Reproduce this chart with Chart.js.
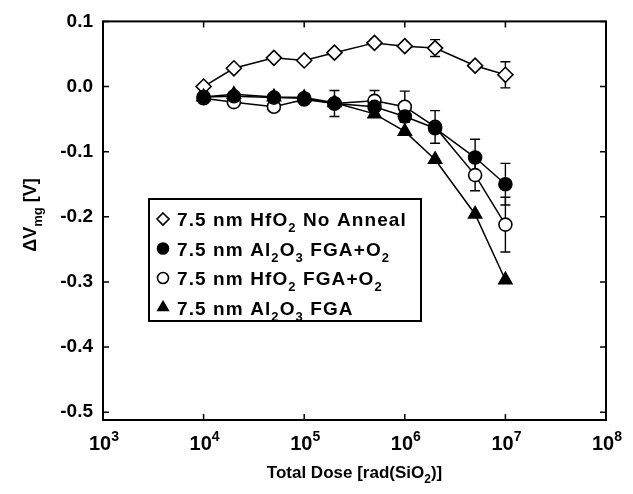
<!DOCTYPE html>
<html><head><meta charset="utf-8">
<script src="https://cdn.jsdelivr.net/npm/chart.js@4/dist/chart.umd.min.js"></script>
<style>html,body{margin:0;padding:0;background:#fff;}canvas{display:block}</style>
</head><body>
<canvas id="c" width="633" height="494"></canvas>
<script>
// ---- data ----
const doses = [1e4, 2e4, 5e4, 1e5, 2e5, 5e5, 1e6, 2e6, 5e6, 1e7];
const hfNoAnneal    = [0.000, 0.028, 0.044, 0.040, 0.052, 0.067, 0.062, 0.059, 0.032, 0.018];
const hfNoAnnealErr = [null, null, null, null, null, null, null, 0.013, null, 0.020];
const alFgaO2       = [-0.016, -0.015, -0.017, -0.018, -0.026, -0.031, -0.046, -0.064, -0.109, -0.150];
const alFgaO2Err    = [null, null, null, null, null, null, null, null, 0.028, 0.032];
const hfFgaO2       = [-0.018, -0.024, -0.031, -0.020, -0.026, -0.022, -0.031, -0.062, -0.136, -0.212];
const hfFgaO2Err    = [null, null, null, null, 0.020, 0.016, 0.024, 0.025, 0.024, 0.042];
const alFga         = [-0.016, -0.012, -0.016, -0.017, -0.025, -0.042, -0.069, -0.112, -0.196, -0.297];
const alFgaErr      = [null, null, null, null, null, null, null, null, null, null];
const yTicks = [0.1, 0.0, -0.1, -0.2, -0.3, -0.4, -0.5];
const xTickExps = [3, 4, 5, 6, 7, 8];
const legendLabels = [
  [["7.5 nm HfO",0],["2",-1],[" No Anneal",0]],
  [["7.5 nm Al",0],["2",-1],["O",0],["3",-1],[" FGA+O",0],["2",-1]],
  [["7.5 nm HfO",0],["2",-1],[" FGA+O",0],["2",-1]],
  [["7.5 nm Al",0],["2",-1],["O",0],["3",-1],[" FGA",0]]
];
// --------------------------------------

const FONT = '"Liberation Sans", Arial, Helvetica, sans-serif';
const pts = arr => doses.map((d, i) => ({x: d, y: arr[i]}));

const seriesDefs = [
  {data: hfNoAnneal, err: hfNoAnnealErr, style: 'rectRot', fill: '#fff', r: 7.5, order: 4},
  {data: alFgaO2, err: alFgaO2Err, style: 'circle', fill: '#000', r: 6.5, order: 1},
  {data: hfFgaO2, err: hfFgaO2Err, style: 'circle', fill: '#fff', r: 6.5, order: 2},
  {data: alFga, err: alFgaErr, style: 'triangle', fill: '#000', r: 7.5, order: 3}
];

function drawRich(ctx, parts, x, y, size, ls) {
  let cx = x;
  ctx.letterSpacing = (ls || 0) + 'px';
  for (const [t, s] of parts) {
    const fs = s === 0 ? size : Math.round(size * 0.7);
    ctx.font = 'bold ' + fs + 'px ' + FONT;
    const dy = s === -1 ? size * 0.32 : (s === 1 ? -size * 0.45 : 0);
    ctx.fillText(t, cx, y + dy);
    cx += ctx.measureText(t).width;
  }
  ctx.letterSpacing = '0px';
  return cx - x;
}
function richWidth(ctx, parts, size, ls) {
  let w = 0;
  ctx.letterSpacing = (ls || 0) + 'px';
  for (const [t, s] of parts) {
    const fs = s === 0 ? size : Math.round(size * 0.7);
    ctx.font = 'bold ' + fs + 'px ' + FONT;
    w += ctx.measureText(t).width;
  }
  ctx.letterSpacing = '0px';
  return w;
}
function marker(ctx, style, x, y, r, fill) {
  ctx.save();
  ctx.lineWidth = 1.6;
  ctx.strokeStyle = '#000';
  ctx.fillStyle = fill;
  ctx.beginPath();
  if (style === 'circle') ctx.arc(x, y, r, 0, Math.PI * 2);
  else if (style === 'rectRot') { ctx.moveTo(x, y - r); ctx.lineTo(x + r, y); ctx.lineTo(x, y + r); ctx.lineTo(x - r, y); ctx.closePath(); }
  else if (style === 'triangle') { ctx.moveTo(x, y - r); ctx.lineTo(x + r * 0.87, y + r * 0.5); ctx.lineTo(x - r * 0.87, y + r * 0.5); ctx.closePath(); }
  ctx.fill(); ctx.stroke();
  ctx.restore();
}

const decor = {
  id: 'decor',
  beforeDatasetsDraw(chart) {
    const ctx = chart.ctx, xs = chart.scales.x, ys = chart.scales.y;
    ctx.save();
    ctx.strokeStyle = '#000'; ctx.lineWidth = 1.4;
    for (const s of seriesDefs) {
      s.err.forEach((e, i) => {
        if (e == null) return;
        const px = xs.getPixelForValue(doses[i]);
        const y1 = ys.getPixelForValue(s.data[i] + e), y2 = ys.getPixelForValue(s.data[i] - e);
        ctx.beginPath();
        ctx.moveTo(px, y1); ctx.lineTo(px, y2);
        ctx.moveTo(px - 5, y1); ctx.lineTo(px + 5, y1);
        ctx.moveTo(px - 5, y2); ctx.lineTo(px + 5, y2);
        ctx.stroke();
      });
    }
    ctx.restore();
  },
  afterDraw(chart) {
    const ctx = chart.ctx, a = chart.chartArea, xs = chart.scales.x, ys = chart.scales.y;
    ctx.save();
    ctx.strokeStyle = '#000'; ctx.fillStyle = '#000';
    // frame
    ctx.lineWidth = 2;
    ctx.strokeRect(a.left, a.top, a.right - a.left, a.bottom - a.top);
    // inward ticks
    ctx.lineWidth = 1.5;
    ctx.beginPath();
    for (const v of yTicks) {
      const py = ys.getPixelForValue(v);
      ctx.moveTo(a.left, py); ctx.lineTo(a.left + 6, py);
      ctx.moveTo(a.right, py); ctx.lineTo(a.right - 6, py);
    }
    for (const e of xTickExps) {
      const px = xs.getPixelForValue(Math.pow(10, e));
      ctx.moveTo(px, a.top); ctx.lineTo(px, a.top + 6);
      ctx.moveTo(px, a.bottom); ctx.lineTo(px, a.bottom - 6);
    }
    ctx.stroke();
    // x tick labels 10^n
    ctx.textBaseline = 'alphabetic'; ctx.textAlign = 'left';
    for (const e of xTickExps) {
      const px = xs.getPixelForValue(Math.pow(10, e));
      const parts = [["10",0],[String(e),1]];
      const w = richWidth(ctx, parts, 20);
      drawRich(ctx, parts, px - w / 2 + 1, a.bottom + 30, 20);
    }
    // x title
    const xt = [["Total Dose [rad(SiO",0],["2",-1],[")]",0]];
    const xw = richWidth(ctx, xt, 17);
    drawRich(ctx, xt, (a.left + a.right) / 2 - xw / 2, 478, 17);
    // y title (rotated)
    ctx.save();
    ctx.translate(36, 215);
    ctx.rotate(-Math.PI / 2);
    const yt = [["\u0394V",0],["mg",-1],[" [V]",0]];
    const yw = richWidth(ctx, yt, 18);
    drawRich(ctx, yt, -yw / 2, 0, 18);
    ctx.restore();
    // legend
    const lx = 149, ly = 199, lw = 272, lh = 122;
    ctx.fillStyle = '#fff';
    ctx.fillRect(lx, ly, lw, lh);
    ctx.lineWidth = 2;
    ctx.strokeRect(lx, ly, lw, lh);
    ctx.fillStyle = '#000';
    legendLabels.forEach((parts, i) => {
      const cy = ly + 20 + i * 29.5;
      const s = seriesDefs[i];
      marker(ctx, s.style, 163, cy, s.style === 'circle' ? 5.5 : 6, s.fill);
      ctx.fillStyle = '#000';
      drawRich(ctx, parts, 177, cy + 7, 19, 1.1);
    });
    ctx.restore();
  }
};

new Chart(document.getElementById('c'), {
  type: 'line',
  data: {
    datasets: seriesDefs.map(s => ({
      data: pts(s.data),
      showLine: true,
      borderColor: '#000',
      borderWidth: 1.5,
      pointStyle: s.style,
      pointRadius: s.r,
      pointBackgroundColor: s.fill,
      pointBorderColor: '#000',
      pointBorderWidth: 1.6,
      order: s.order,
      tension: 0
    }))
  },
  options: {
    responsive: false,
    animation: false,
    devicePixelRatio: 1,
    layout: {padding: {top: 17, right: 27, left: 0, bottom: 0}},
    plugins: {legend: {display: false}, tooltip: {enabled: false}},
    scales: {
      x: {
        type: 'logarithmic', min: 1e3, max: 1e8,
        grid: {display: false, drawTicks: false},
        border: {display: false},
        ticks: {display: false},
        afterFit: s => { s.height = 74; }
      },
      y: {
        type: 'linear', min: -0.512, max: 0.1,
        grid: {display: false, drawTicks: false},
        border: {display: false},
        afterBuildTicks: s => { s.ticks = yTicks.map(v => ({value: v})); },
        ticks: {
          color: '#000', padding: 10,
          font: {family: FONT, size: 19, weight: 'bold'},
          callback: v => v.toFixed(1)
        },
        afterFit: s => { s.width = 103; }
      }
    }
  },
  plugins: [decor]
});
</script>
</body></html>
